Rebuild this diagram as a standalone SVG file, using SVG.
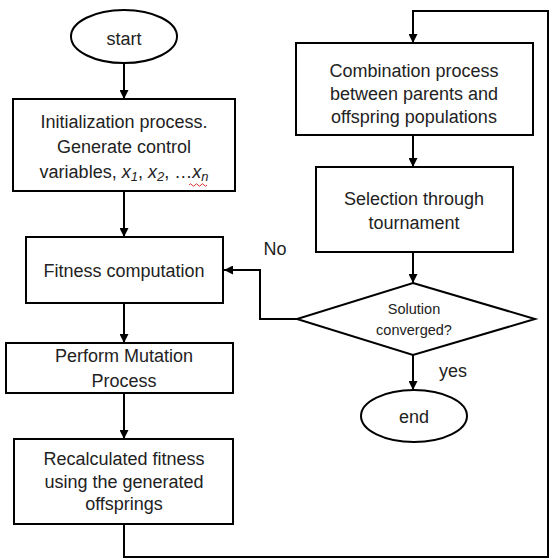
<svg xmlns="http://www.w3.org/2000/svg" width="550" height="559" viewBox="0 0 550 559">
<style>
.box{fill:#fff;stroke:#000;stroke-width:2}
.ln{fill:none;stroke:#000;stroke-width:2}
text{font-family:"Liberation Sans",Arial,sans-serif;font-size:18px;fill:#222;text-anchor:middle}
.sm{font-size:14.5px}
.it{font-style:italic}
</style>
<defs>
<marker id="ah" viewBox="0 0 10 10" refX="10" refY="5" markerWidth="4.5" markerHeight="4.5" orient="auto" markerUnits="strokeWidth">
<path d="M0,0 L10,5 L0,10 Z" fill="#000"/>
</marker>
</defs>
<rect width="550" height="559" fill="#fff"/>
<g id="connectors">
<line class="ln" x1="124" y1="63" x2="124" y2="99" marker-end="url(#ah)"/>
<line class="ln" x1="124" y1="191" x2="124" y2="237" marker-end="url(#ah)"/>
<line class="ln" x1="124" y1="303" x2="124" y2="343" marker-end="url(#ah)"/>
<line class="ln" x1="124" y1="393" x2="124" y2="439" marker-end="url(#ah)"/>
<polyline class="ln" points="124,524 124,557 548,557 548,11 413,11 413,43" marker-end="url(#ah)"/>
<line class="ln" x1="413" y1="135" x2="413" y2="167" marker-end="url(#ah)"/>
<line class="ln" x1="413" y1="252" x2="413" y2="283" marker-end="url(#ah)"/>
<polyline class="ln" points="297,319 260,319 260,270 224,270" marker-end="url(#ah)"/>
<line class="ln" x1="413" y1="355" x2="413" y2="390" marker-end="url(#ah)"/>
<text x="275" y="255">No</text>
<text x="453" y="377">yes</text>
</g>
<g id="start">
<ellipse class="box" cx="124" cy="36.5" rx="53" ry="26.5"/>
<text x="124" y="45">start</text>
</g>
<g id="init">
<rect class="box" x="13" y="99" width="222" height="92"/>
<text x="124" y="128">Initialization process.</text>
<text x="124" y="153">Generate control</text>
<text x="124" y="178">variables, <tspan class="it">x</tspan><tspan class="it" font-size="13" dy="3">1</tspan><tspan dy="-3">, </tspan><tspan class="it">x</tspan><tspan class="it" font-size="13" dy="3">2</tspan><tspan dy="-3">, …</tspan><tspan class="it">x</tspan><tspan class="it" font-size="13" dy="3">n</tspan></text>
<path d="M189,185 q1.5,-2.5 3,0 t3,0 t3,0 t3,0 t3,0 t3,0" fill="none" stroke="#e03030" stroke-width="1"/>
</g>
<g id="fitness">
<rect class="box" x="26" y="237" width="197" height="66"/>
<text x="124" y="277">Fitness computation</text>
</g>
<g id="mutation">
<rect class="box" x="6" y="343" width="227" height="50"/>
<text x="124" y="362">Perform Mutation</text>
<text x="124" y="387">Process</text>
</g>
<g id="recalc">
<rect class="box" x="14" y="439" width="219" height="85"/>
<text x="124" y="465">Recalculated fitness</text>
<text x="124" y="488">using the generated</text>
<text x="124" y="510">offsprings</text>
</g>
<g id="combination">
<rect class="box" x="296" y="43" width="237" height="92"/>
<text x="414" y="77">Combination process</text>
<text x="414" y="100">between parents and</text>
<text x="414" y="123">offspring populations</text>
</g>
<g id="selection">
<rect class="box" x="316" y="167" width="197" height="85"/>
<text x="414" y="205">Selection through</text>
<text x="414" y="229">tournament</text>
</g>
<g id="decision">
<polygon class="box" points="413,283 535,319 413,355 297,319"/>
<text class="sm" x="414" y="314">Solution</text>
<text class="sm" x="414" y="335">converged?</text>
</g>
<g id="end">
<ellipse class="box" cx="414" cy="416" rx="53" ry="26"/>
<text x="414" y="423">end</text>
</g>
</svg>
